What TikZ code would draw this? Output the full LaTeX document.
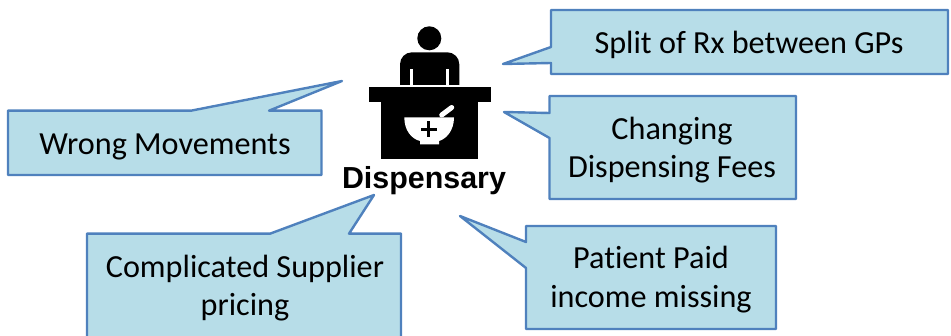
\documentclass[tikz,border=0pt]{standalone}
\usepackage{fontspec}
\setmainfont[RawFeature=-liga]{Carlito}
\newfontfamily\iconfont{Liberation Sans}
\begin{document}
\begin{tikzpicture}[x=1pt, y=-1pt,
  callout/.style={draw=calloutline, fill=calloutfill, line width=2.4pt, line join=round},
  every label/.style={align=center, font=\fontsize{32.2}{38.5}\selectfont},
  icon/.style={fill=black, draw=none},
  iconcut/.style={fill=white, draw=none}]

\definecolor{calloutfill}{HTML}{B7DDE8}
\definecolor{calloutline}{HTML}{4F81BD}

\useasboundingbox (0,0) rectangle (951,336);
\clip (0,0) rectangle (951,336);

\draw [callout] (551,10) -- (948,10) -- (948,74) -- (551,74) -- (551,63) -- (503,64) -- (551,47) -- cycle;
\draw [callout] (549.5,96) -- (796,96) -- (796,199) -- (549.5,199) -- (549.5,138) -- (504,112) -- (549.5,113) -- cycle;
\draw [callout] (526,226) -- (776,226) -- (776,329) -- (526,329) -- (526,268) -- (460,216) -- (526,242) -- cycle;
\draw [callout] (8,110.7) -- (191,110.7) -- (342,81) -- (269,110.7) -- (321.5,110.7) -- (321.5,175) -- (8,175) -- cycle;
\draw [callout] (87,233.7) -- (270,233.7) -- (374,195) -- (349,233.7) -- (401,233.7) -- (401,345) -- (87,345) -- cycle;

\foreach \m/\px/\py/\l in {split/749/44.5/{Split of Rx between GPs},
    fees/672/150/{Changing\\Dispensing Fees},
    paid/651/279.5/{Patient Paid\\income missing},
    moves/165/146.5/{Wrong Movements},
    pricing/245/288/{Complicated Supplier\\pricing}}
  \node [every label/.try] (label-\m) at (\px,\py) {\l};

\fill [icon] (429.3,38.3) circle (12);
\fill [icon] (400,85) -- (400,70) [rounded corners=12pt] -- (400,52.3) -- (459.3,52.3) [sharp corners] -- (459.3,70) -- (459.3,85) -- cycle;
\foreach \x in {410,445.7}
  \fill [iconcut] (\x,69) rectangle ++(3.4,16);
\fill [icon] (368.7,87.3) rectangle (491,101.7);
\fill [icon] (380.7,101.7) rectangle (478.3,159.3);

\draw [white, line width=5pt, line cap=round] (441.7,115) -- (451.7,107.5);
\fill [iconcut] (404.3,117.3) -- (454,117.3) .. controls (454,131) and (446,139) .. (439,141) -- (439,144.3) -- (420,144.3) -- (420,141) .. controls (412,139) and (404.3,131) .. (404.3,117.3) -- cycle;
\fill [icon] (420.7,127.6) rectangle (436.7,131);
\fill [icon] (427,121.3) rectangle (430.4,137.3);

\node [font=\iconfont\bfseries\fontsize{30.4}{36}\selectfont] (dispensary) at (424,181) {Dispensary};

\end{tikzpicture}
\end{document}
